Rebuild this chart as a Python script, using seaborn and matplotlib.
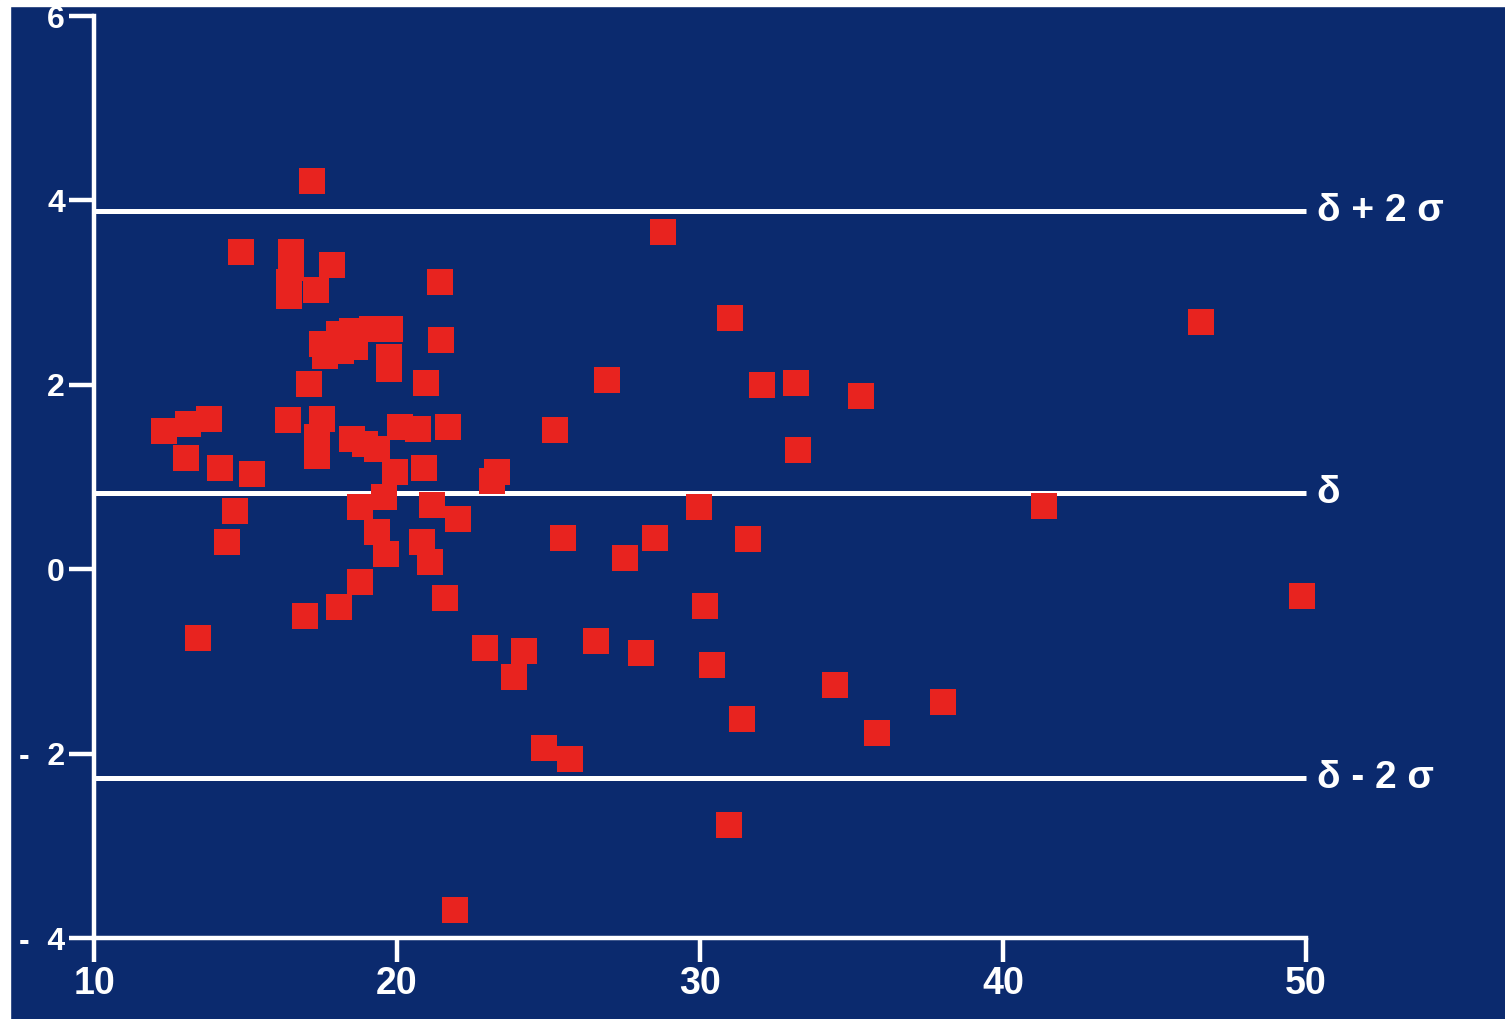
import matplotlib
matplotlib.use("Agg")
import matplotlib.pyplot as plt
from matplotlib.patches import Rectangle
import seaborn as sns
import pandas as pd

# Mean of the two measurements (x) and their difference (y)
mean_value = [
    17.18, 14.84, 16.50, 16.50, 16.45, 16.42, 17.34, 17.87, 21.42, 21.45,
    17.54, 17.64, 18.07, 18.14, 18.53, 18.63, 19.19, 19.78, 19.75, 19.75,
    17.08, 20.96,
    12.30, 13.09, 13.79, 13.03, 14.15, 15.23, 14.64, 14.38, 13.42, 16.39,
    17.54, 17.37, 17.37, 18.53, 18.95, 19.35, 20.11, 20.70, 21.69, 19.94,
    20.90, 19.58, 18.79, 21.16, 22.02, 19.35, 19.65, 20.83, 21.09, 18.79,
    18.07, 16.98, 21.59,
    28.77, 31.00, 26.92, 32.06, 33.18, 35.32, 33.24, 25.21, 23.13, 23.30,
    29.98, 25.47, 28.53, 27.51, 31.60, 30.18, 22.91, 24.19, 23.86, 26.56,
    28.04, 30.41, 34.46, 31.37, 35.84, 24.85, 25.70, 30.97, 21.92,
    46.54, 41.34, 49.87, 38.02,
]
difference = [
    4.21, 3.44, 3.44, 3.27, 3.11, 2.96, 3.03, 3.30, 3.11, 2.49,
    2.44, 2.31, 2.55, 2.37, 2.58, 2.41, 2.60, 2.60, 2.30, 2.17,
    2.01, 2.02,
    1.50, 1.57, 1.63, 1.21, 1.10, 1.03, 0.63, 0.30, -0.75, 1.62,
    1.63, 1.43, 1.23, 1.41, 1.36, 1.30, 1.54, 1.52, 1.54, 1.05,
    1.10, 0.78, 0.68, 0.70, 0.54, 0.40, 0.17, 0.29, 0.08, -0.14,
    -0.41, -0.51, -0.31,
    3.66, 2.72, 2.05, 2.00, 2.02, 1.88, 1.29, 1.51, 0.96, 1.05,
    0.68, 0.34, 0.34, 0.12, 0.33, -0.40, -0.85, -0.89, -1.17, -0.78,
    -0.91, -1.04, -1.26, -1.62, -1.78, -1.94, -2.06, -2.77, -3.70,
    2.68, 0.69, -0.29, -1.44,
]

# Bias and limits of agreement
limit_values = [3.88, 0.83, -2.27]
limit_labels = ["δ + 2 σ", "δ", "δ - 2 σ"]

x_ticks = [10, 20, 30, 40, 50]
x_tick_labels = ["10", "20", "30", "40", "50"]
y_ticks = [-4, -2, 0, 2, 4, 6]
y_tick_labels = ["-  4", "-  2", "0", "2", "4", "6"]

BG = "#0b2a6e"
RED = "#e8231f"
WHITE = "white"

sns.set_theme(style="ticks")
plt.rcParams["font.family"] = ["Liberation Sans", "DejaVu Sans"]
plt.rcParams["font.weight"] = "bold"

df = pd.DataFrame({"mean": mean_value, "diff": difference})

W, H = 1505, 1019
fig = plt.figure(figsize=(W / 100, H / 100), dpi=100)
fig.patch.set_facecolor(BG)
# thin white border at the top and left edge
fig.add_artist(Rectangle((0, 1 - 6 / H), 1, 6 / H, transform=fig.transFigure,
                         color="white", zorder=10))
fig.add_artist(Rectangle((0, 0), 10 / W, 1, transform=fig.transFigure,
                         color="white", zorder=10))

ax = fig.add_axes([94 / W, 81 / H, 1212 / W, 922 / H])
ax.set_facecolor(BG)

ax.hlines(limit_values, 10, 50, colors=WHITE, linewidth=3.6, zorder=2,
          clip_on=False)
for val, lab in zip(limit_values, limit_labels):
    ax.text(50.35, val, lab, color=WHITE, fontsize=28, fontweight="bold",
            ha="left", va="center", clip_on=False)

sns.scatterplot(data=df, x="mean", y="diff", marker="s", s=340, color=RED,
                linewidth=0, ax=ax, zorder=3, clip_on=False, legend=False)

ax.set_xlim(10, 50)
ax.set_ylim(-4, 6)
ax.set_xticks(x_ticks)
ax.set_xticklabels(x_tick_labels)
ax.set_yticks(y_ticks)
ax.set_yticklabels(y_tick_labels)
ax.set_xlabel("")
ax.set_ylabel("")

for side in ("top", "right"):
    ax.spines[side].set_visible(False)
for side in ("left", "bottom"):
    ax.spines[side].set_color(WHITE)
    ax.spines[side].set_linewidth(3.2)
    ax.spines[side].set_capstyle("projecting")

ax.tick_params(axis="x", direction="out", length=17, width=3.2, color=WHITE,
               labelcolor=WHITE, labelsize=27, pad=3)
ax.tick_params(axis="y", direction="out", length=18, width=3.2, color=WHITE,
               labelcolor=WHITE, labelsize=23, pad=3)
for lab in ax.get_xticklabels() + ax.get_yticklabels():
    lab.set_fontweight("bold")

fig.savefig("out.png", dpi=100, facecolor=fig.get_facecolor())
